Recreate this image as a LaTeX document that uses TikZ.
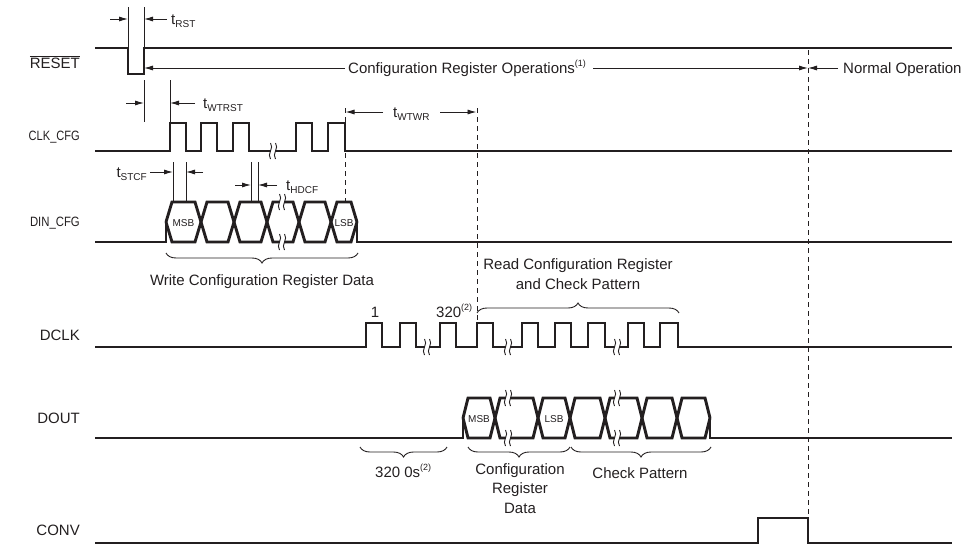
\documentclass[tikz,border=0pt]{standalone}
\usepackage{fontspec}
\setmainfont{Liberation Sans}
\usetikzlibrary{arrows.meta,decorations.pathreplacing}
\definecolor{ink}{RGB}{35,31,32}
\newcommand{\tsub}[2]{#1\raisebox{-3.5pt}{\fontsize{10}{10}\selectfont #2}}
\newcommand{\supnote}[1]{\raisebox{7pt}{\fontsize{9}{9}\selectfont #1}}
\newcommand{\brk}[2]{%
  \fill[white] (#1-2.5,#2-8) .. controls (#1+1.5,#2-3) and (#1-6.5,#2+3) .. (#1-2.5,#2+8)
     -- (#1+2.5,#2+8) .. controls (#1-1.5,#2+3) and (#1+6.5,#2-3) .. (#1+2.5,#2-8) -- cycle;
  \draw[thinl] (#1-2.5,#2-8) .. controls (#1+1.5,#2-3) and (#1-6.5,#2+3) .. (#1-2.5,#2+8);
  \draw[thinl] (#1+2.5,#2-8) .. controls (#1+6.5,#2-3) and (#1-1.5,#2+3) .. (#1+2.5,#2+8);
}
\begin{document}
\begin{tikzpicture}[x=1pt,y=-1pt,
  font=\fontsize{15}{19.5}\selectfont,
  sig/.style={line width=2.9pt, draw=ink, line join=miter},
  thinl/.style={line width=0.9pt, draw=ink},
  dashl/.style={line width=0.9pt, draw=ink, dash pattern=on 5pt off 4pt},
  arr/.style={thinl, -{Latex[length=9pt,width=5pt]}},
  lbl/.style={anchor=east, inner sep=0pt, text=ink},
  txt/.style={inner sep=0pt, text=ink},
  small/.style={txt, font=\fontsize{10}{10}\selectfont},
  brc/.style={thinl, decorate, decoration={brace, amplitude=10pt}},
  brcm/.style={thinl, decorate, decoration={brace, mirror, amplitude=10pt}}]
\useasboundingbox (0,0) rectangle (963,546);

% ---------- signal labels ----------
\node[lbl] (lreset) at (80,62) {$\overline{\mbox{RESET}}$};
\node[lbl] (lclk) at (80,137) {\fontsize{13.5}{15}\selectfont\scalebox{0.82}[1]{CLK\_CFG}};
\node[lbl] (ldin) at (80,223) {\fontsize{13.5}{15}\selectfont\scalebox{0.84}[1]{DIN\_CFG}};
\node[lbl] (ldclk) at (80,335) {DCLK};
\node[lbl] (ldout) at (80,418) {DOUT};
\node[lbl] (lconv) at (80,530) {CONV};

% ---------- dashed markers ----------
\draw[dashl] (345,108) -- (345,202);
\draw[dashl] (477,108) -- (477,323);
\draw[dashl] (808,50) -- (808,518);

% ---------- RESET ----------
\draw[sig] (95,48) -- (128,48) -- (128,74) -- (144,74) -- (144,48) -- (952,48);
\draw[thinl] (128,7) -- (128,48);
\draw[thinl] (144,7) -- (144,74);
\draw[arr] (110,19) -- (128,19);
\draw[arr] (167,19) -- (144,19);
\node[txt,anchor=base west] (trst) at (171,24) {\tsub{t}{RST}};

\draw[arr] (345,68) -- (144,68);
\node[txt,anchor=base west] (cro) at (348,73.5) {Configuration Register Operations\supnote{(1)}};
\draw[arr] (593,68) -- (808,68);
\draw[arr] (838,68) -- (808,68);
\node[txt,anchor=base west] (nop) at (843,73.5) {Normal Operation};

% ---------- CLK_CFG ----------
\draw[sig] (95,151) -- (170,151) -- (170,123) -- (186,123) -- (186,151) -- (201,151) -- (201,123)
  -- (217,123) -- (217,151) -- (233,151) -- (233,123) -- (249,123) -- (249,151) -- (296,151)
  -- (296,123) -- (312,123) -- (312,151) -- (328,151) -- (328,123) -- (345,123) -- (345,151) -- (952,151);
\brk{273}{151}
\draw[thinl] (144,80) -- (144,122);
\draw[thinl] (170,80) -- (170,123);
\draw[arr] (126,103) -- (144,103);
\draw[arr] (195,103) -- (170,103);
\node[txt,anchor=base west] (twtrst) at (203,108) {\tsub{t}{WTRST}};

\draw[arr] (383,112) -- (345.5,112);
\node[txt,anchor=base west] (twtwr) at (393,117) {\tsub{t}{WTWR}};
\draw[arr] (440,112) -- (476.5,112);

% ---------- DIN_CFG ----------
\draw[sig] (95,242) -- (166,242) -- (166,222);
\draw[sig] (166,222) -- (172,202) -- (195,202) -- (207,242) -- (228,242) -- (240,202) -- (261,202)
  -- (273,242) -- (293,242) -- (305,202) -- (325,202) -- (337,242) -- (351,242) -- (357,222);
\draw[sig] (166,222) -- (172,242) -- (195,242) -- (207,202) -- (228,202) -- (240,242) -- (261,242)
  -- (273,202) -- (293,202) -- (305,242) -- (325,242) -- (337,202) -- (351,202) -- (357,222);
\draw[sig] (357,222) -- (357,242) -- (952,242);
\brk{282}{202}
\brk{282}{242}
\node[small] (dmsb) at (183.5,223) {MSB};
\node[small] (dlsb) at (344,223) {LSB};

\draw[thinl] (173,162) -- (173,202);
\draw[thinl] (186,162) -- (186,202);
\draw[arr] (150,172) -- (173,172);
\draw[arr] (203,172) -- (186,172);
\node[txt,anchor=base east] (tstcf) at (147,177) {\tsub{t}{STCF}};

\draw[thinl] (251,162) -- (251,202);
\draw[thinl] (258,162) -- (258,202);
\draw[arr] (235,185) -- (251,185);
\draw[arr] (277,185) -- (258,185);
\node[txt,anchor=base west] (thdcf) at (286,190) {\tsub{t}{HDCF}};

\draw[brcm] (166,253) -- (358,253);
\node[txt] (wcrd) at (262,282) {Write Configuration Register Data};

% ---------- DCLK ----------
\draw[sig] (95,347) -- (366,347) -- (366,323) -- (382,323) -- (382,347) -- (400,347) -- (400,323)
  -- (416,323) -- (416,347) -- (440,347) -- (440,323) -- (456,323) -- (456,347) -- (477,347)
  -- (477,323) -- (493,323) -- (493,347) -- (522,347) -- (522,323) -- (538,323) -- (538,347)
  -- (555,347) -- (555,323) -- (571,323) -- (571,347) -- (588,347) -- (588,323) -- (605,323)
  -- (605,347) -- (628,347) -- (628,323) -- (644,323) -- (644,347) -- (660,347) -- (660,323)
  -- (678,323) -- (678,347) -- (952,347);
\brk{427}{347}
\brk{508}{347}
\brk{617}{347}
\node[txt,anchor=base] (one) at (375,317) {1};
\node[txt,anchor=base west] (n320) at (436,317) {320\supnote{(2)}};
\draw[brc] (477,313) -- (679,313);
\node[txt,align=center] (rcr) at (578,274) {Read Configuration Register\\and Check Pattern};

% ---------- DOUT ----------
\draw[sig] (95,438) -- (463,438) -- (463,418);
\draw[sig] (463,418) -- (468,398) -- (490,398) -- (500,438) -- (533,438) -- (543,398) -- (565,398)
  -- (575,438) -- (600,438) -- (610,398) -- (637,398) -- (647,438) -- (672,438) -- (682,398)
  -- (705,398) -- (710,418);
\draw[sig] (463,418) -- (468,438) -- (490,438) -- (500,398) -- (533,398) -- (543,438) -- (565,438)
  -- (575,398) -- (600,398) -- (610,438) -- (637,438) -- (647,398) -- (672,398) -- (682,438)
  -- (705,438) -- (710,418);
\draw[sig] (710,418) -- (710,438) -- (952,438);
\brk{508}{398}
\brk{508}{438}
\brk{617}{398}
\brk{617}{438}
\node[small] (omsb) at (479,419) {MSB};
\node[small] (olsb) at (554,419) {LSB};

\draw[brcm] (360,447) -- (447,447);
\node[txt,anchor=base west] (zeros) at (375,477) {320 0s\supnote{(2)}};
\draw[brcm] (468,447) -- (570,447);
\node[txt,align=center,anchor=north] (crd) at (520,463) {Configuration\\Register\\Data};
\draw[brcm] (571,447) -- (711,447);
\node[txt] (chk) at (640,473) {Check Pattern};

% ---------- CONV ----------
\draw[sig] (95,543) -- (758,543) -- (758,518) -- (808,518) -- (808,543) -- (952,543);

\end{tikzpicture}
\end{document}
